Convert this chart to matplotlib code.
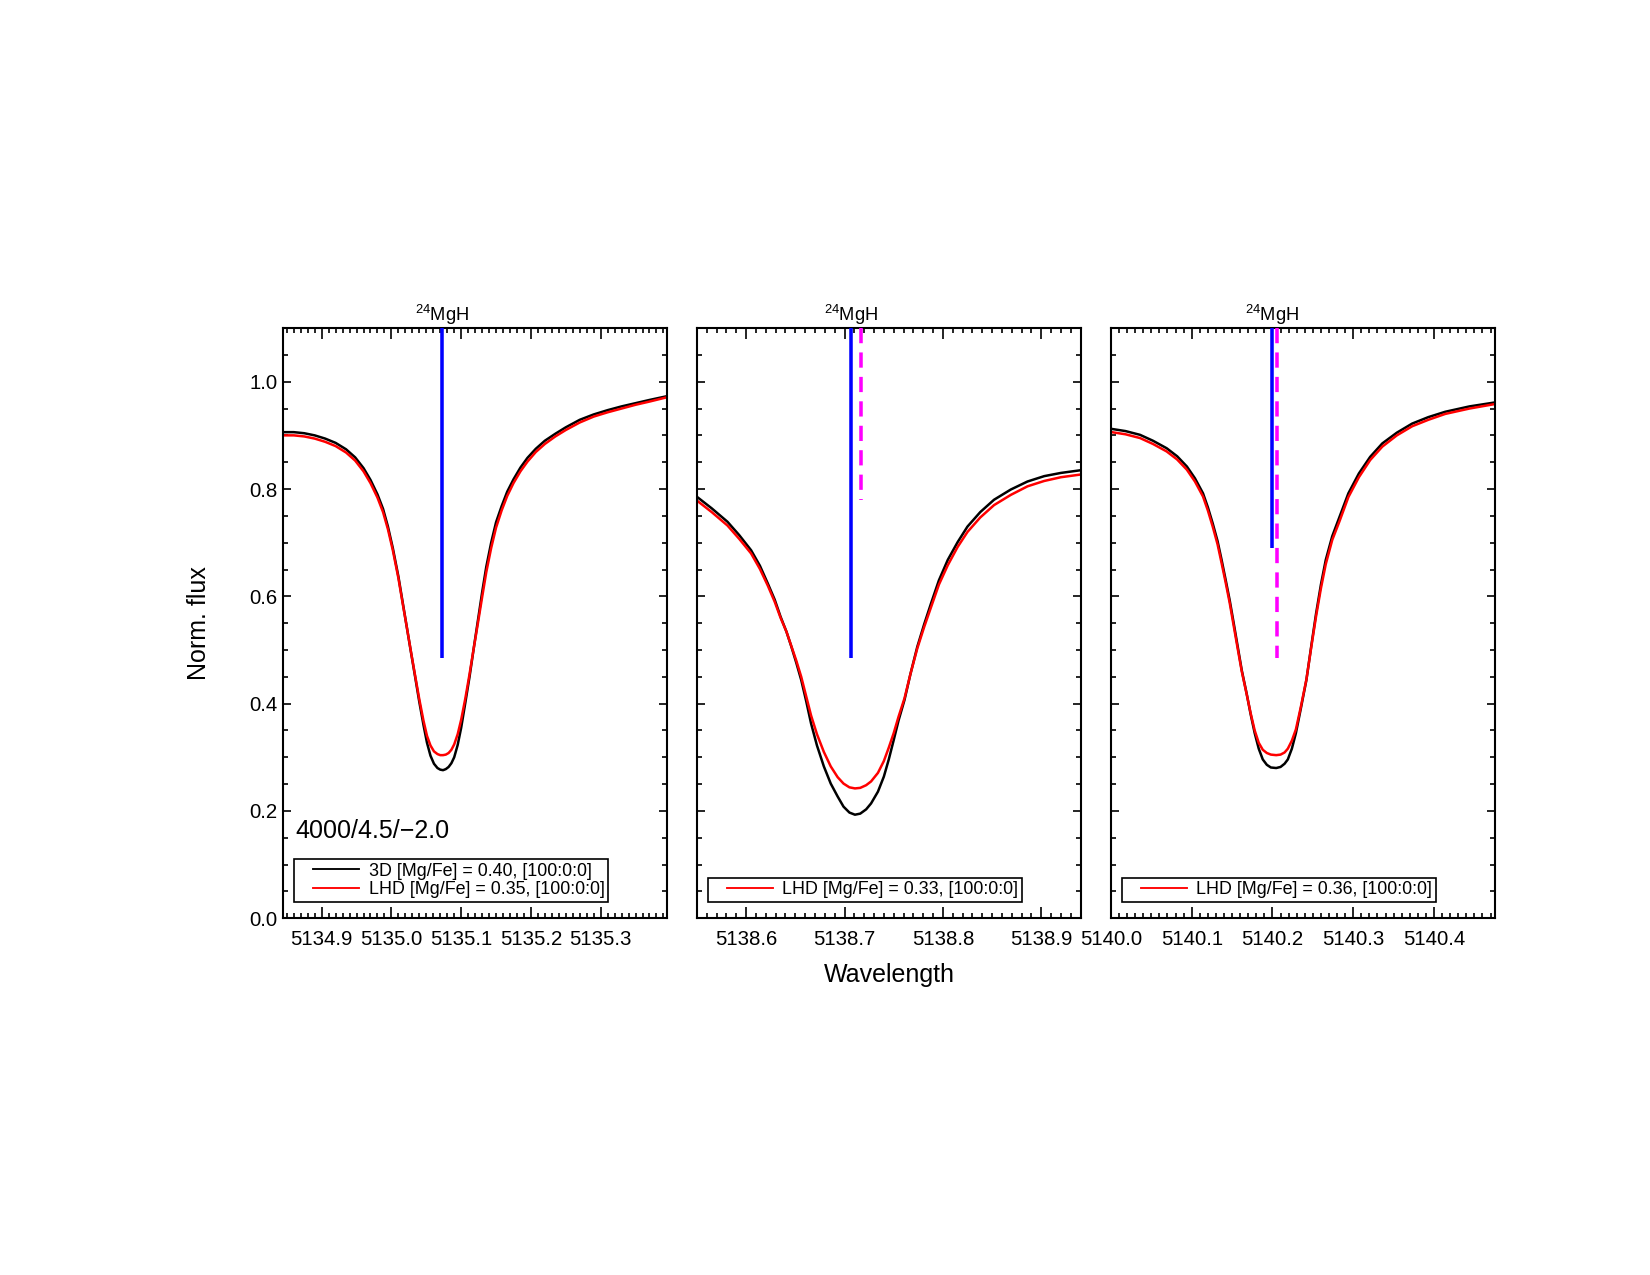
import matplotlib
matplotlib.use('Agg')
import numpy as np
import matplotlib.pyplot as plt
from matplotlib.ticker import MultipleLocator, FormatStrFormatter
from matplotlib.legend_handler import HandlerLine2D

plt.rcParams['font.family'] = ['Liberation Sans', 'DejaVu Sans']
plt.rcParams['mathtext.fontset'] = 'custom'
plt.rcParams['mathtext.rm'] = 'Liberation Sans'
plt.rcParams['mathtext.it'] = 'Liberation Sans:italic'

# ---- panel 1: 5135.07 ----
wl1 = [5134.845, 5134.860, 5134.875, 5134.890, 5134.905, 5134.920, 5134.935, 5134.948,
       5134.960, 5134.970, 5134.980, 5134.988, 5134.995, 5135.002, 5135.010, 5135.016,
       5135.022, 5135.028, 5135.034, 5135.040, 5135.046, 5135.051, 5135.056, 5135.061,
       5135.066, 5135.070, 5135.074, 5135.078, 5135.082, 5135.086, 5135.090, 5135.095,
       5135.100, 5135.106, 5135.112, 5135.118, 5135.124, 5135.130, 5135.136, 5135.143,
       5135.150, 5135.158, 5135.166, 5135.175, 5135.185, 5135.195, 5135.207, 5135.220,
       5135.235, 5135.250, 5135.270, 5135.290, 5135.310, 5135.330, 5135.350, 5135.370,
       5135.395]
flux3d_1 = [0.906, 0.906, 0.904, 0.900, 0.894, 0.886, 0.874, 0.859,
            0.839, 0.817, 0.790, 0.763, 0.730, 0.690, 0.637, 0.590,
            0.543, 0.496, 0.450, 0.403, 0.360, 0.327, 0.303, 0.288,
            0.280, 0.277, 0.276, 0.278, 0.282, 0.289, 0.300, 0.323,
            0.355, 0.402, 0.450, 0.503, 0.555, 0.607, 0.655, 0.700,
            0.738, 0.768, 0.795, 0.818, 0.840, 0.858, 0.875, 0.890,
            0.903, 0.915, 0.929, 0.939, 0.947, 0.954, 0.960, 0.966,
            0.973]
fluxlhd_1 = [0.900, 0.900, 0.898, 0.894, 0.888, 0.880, 0.868, 0.853,
             0.833, 0.811, 0.784, 0.757, 0.725, 0.686, 0.634, 0.588,
             0.543, 0.497, 0.452, 0.408, 0.368, 0.340, 0.322, 0.311,
             0.306, 0.304, 0.304, 0.305, 0.308, 0.314, 0.324, 0.343,
             0.370, 0.410, 0.455, 0.503, 0.550, 0.598, 0.645, 0.690,
             0.728, 0.760, 0.787, 0.811, 0.833, 0.851, 0.869, 0.884,
             0.898, 0.910, 0.924, 0.935, 0.943, 0.950, 0.957, 0.963,
             0.971]

# ---- panel 2: 5138.71 ----
wl2 = [5138.551, 5138.565, 5138.581, 5138.593, 5138.605, 5138.614, 5138.622, 5138.629,
       5138.635, 5138.641, 5138.646, 5138.651, 5138.656, 5138.661, 5138.666, 5138.672,
       5138.679, 5138.686, 5138.693, 5138.699, 5138.705, 5138.7106, 5138.716, 5138.722,
       5138.727, 5138.734, 5138.740, 5138.745, 5138.750, 5138.755, 5138.761, 5138.767,
       5138.774, 5138.781, 5138.788, 5138.796, 5138.805, 5138.815, 5138.825, 5138.838,
       5138.852, 5138.869, 5138.886, 5138.903, 5138.920, 5138.940]
flux3d_2 = [0.784, 0.764, 0.739, 0.714, 0.686, 0.657, 0.624, 0.594,
            0.562, 0.534, 0.506, 0.476, 0.444, 0.405, 0.363, 0.322,
            0.283, 0.251, 0.227, 0.208, 0.197, 0.193, 0.195, 0.203,
            0.214, 0.236, 0.264, 0.296, 0.332, 0.369, 0.407, 0.455,
            0.506, 0.548, 0.587, 0.630, 0.668, 0.701, 0.730, 0.757,
            0.780, 0.799, 0.814, 0.824, 0.830, 0.835]
fluxlhd_2 = [0.777, 0.757, 0.732, 0.707, 0.680, 0.651, 0.620, 0.590,
             0.560, 0.534, 0.507, 0.480, 0.450, 0.414, 0.378, 0.343,
             0.310, 0.283, 0.263, 0.251, 0.244, 0.242, 0.243, 0.248,
             0.255, 0.271, 0.293, 0.318, 0.345, 0.376, 0.410, 0.455,
             0.503, 0.543, 0.580, 0.622, 0.658, 0.692, 0.720, 0.747,
             0.770, 0.789, 0.805, 0.815, 0.822, 0.827]

# ---- panel 3: 5140.20 ----
wl3 = [5140.001, 5140.018, 5140.036, 5140.052, 5140.069, 5140.082, 5140.094, 5140.104,
       5140.114, 5140.120, 5140.126, 5140.132, 5140.137, 5140.142, 5140.147, 5140.152,
       5140.157, 5140.162, 5140.168, 5140.173, 5140.178, 5140.183, 5140.188, 5140.193,
       5140.198, 5140.2046, 5140.210, 5140.215, 5140.219, 5140.224, 5140.229, 5140.235,
       5140.242, 5140.248, 5140.254, 5140.260, 5140.266, 5140.274, 5140.283, 5140.294,
       5140.307, 5140.321, 5140.336, 5140.354, 5140.373, 5140.393, 5140.414, 5140.444,
       5140.474]
flux3d_3 = [0.912, 0.908, 0.901, 0.890, 0.876, 0.861, 0.842, 0.820,
            0.792, 0.766, 0.736, 0.703, 0.668, 0.631, 0.593, 0.550,
            0.506, 0.462, 0.419, 0.380, 0.345, 0.316, 0.296, 0.286,
            0.281, 0.280, 0.282, 0.288, 0.296, 0.316, 0.345, 0.390,
            0.444, 0.507, 0.568, 0.622, 0.668, 0.712, 0.748, 0.792,
            0.829, 0.860, 0.885, 0.905, 0.922, 0.934, 0.944, 0.954,
            0.961]
fluxlhd_3 = [0.906, 0.902, 0.895, 0.884, 0.870, 0.855, 0.836, 0.814,
             0.786, 0.760, 0.730, 0.697, 0.662, 0.626, 0.588, 0.545,
             0.502, 0.460, 0.418, 0.382, 0.350, 0.327, 0.314, 0.308,
             0.305, 0.304, 0.305, 0.309, 0.316, 0.331, 0.352, 0.393,
             0.445, 0.505, 0.563, 0.615, 0.660, 0.705, 0.740, 0.785,
             0.822, 0.854, 0.879, 0.900, 0.917, 0.929, 0.940, 0.950,
             0.958]

xlims = [(5134.845, 5135.395), (5138.550, 5138.940), (5140.000, 5140.475)]
mgh_pos = [5135.072, 5138.7065, 5140.1993]      # blue line positions
mgh_depth = [0.4845, 0.4845, 0.691]             # lower end of blue line
iso_pos = [None, 5138.7166, 5140.2058]          # magenta dashed
iso_depth = [None, 0.7795, 0.4845]
mgfe_3d = ['0.40', None, None]
mgfe_lhd = ['0.35', '0.33', '0.36']

wl = [wl1, wl2, wl3]
f3d = [flux3d_1, flux3d_2, flux3d_3]
flhd = [fluxlhd_1, fluxlhd_2, fluxlhd_3]


class IndentedLine(HandlerLine2D):
    # legend line that starts a bit right of the frame edge, as in the IDL legend
    def create_artists(self, *args, **kwargs):
        arts = super().create_artists(*args, **kwargs)
        x = np.asarray(arts[0].get_xdata(), dtype=float)
        x0, x1 = x[0], x[-1]
        arts[0].set_xdata(np.linspace(x0 + 0.25 * (x1 - x0), x1, len(x)))
        return arts


fig = plt.figure(figsize=(11, 8.5), dpi=150)
lefts = [0.1717, 0.4224, 0.6733]
axes = [fig.add_axes([l, 0.2798, 0.2325, 0.4629]) for l in lefts]

for i, ax in enumerate(axes):
    h3d, = ax.plot(wl[i], f3d[i], color='black', lw=1.2)
    hlhd, = ax.plot(wl[i], flhd[i], color='red', lw=1.2)
    ax.vlines(mgh_pos[i], mgh_depth[i], 1.1, color='blue', lw=1.7, zorder=3)
    if iso_pos[i] is not None:
        ax.plot([iso_pos[i], iso_pos[i]], [1.1, iso_depth[i]], color='magenta',
                lw=1.7, dashes=(4.3, 2.6), zorder=3)
    ax.text(mgh_pos[i], 1.1137, r'$^{24}$MgH', ha='center', va='baseline', fontsize=8.8)

    ax.set_xlim(*xlims[i])
    ax.set_ylim(0, 1.1)
    ax.xaxis.set_major_locator(MultipleLocator(0.1))
    ax.xaxis.set_minor_locator(MultipleLocator(0.01))
    ax.xaxis.set_major_formatter(FormatStrFormatter('%.1f'))
    ax.yaxis.set_major_locator(MultipleLocator(0.2))
    ax.yaxis.set_minor_locator(MultipleLocator(0.05))
    ax.yaxis.set_major_formatter(FormatStrFormatter('%.1f'))
    ax.tick_params(axis='both', which='both', direction='in', top=True, right=True,
                   width=0.8, labelsize=9.8)
    ax.tick_params(axis='x', which='major', length=5.2, pad=5.5)
    ax.tick_params(axis='x', which='minor', length=2.6)
    ax.tick_params(axis='y', which='major', length=3.7, pad=2.9)
    ax.tick_params(axis='y', which='minor', length=2.2)
    if i > 0:
        ax.tick_params(axis='y', labelleft=False)
    for s in ax.spines.values():
        s.set_linewidth(1.0)

    handles, labels = [], []
    if mgfe_3d[i] is not None:
        handles.append(h3d)
        labels.append(f'3D [Mg/Fe] = {mgfe_3d[i]}, [100:0:0]')
    handles.append(hlhd)
    labels.append(f'LHD [Mg/Fe] = {mgfe_lhd[i]}, [100:0:0]')
    leg = ax.legend(handles, labels, loc='lower left', bbox_to_anchor=(0.029, 0.028),
                    borderaxespad=0, fontsize=8.6, fancybox=False, framealpha=1,
                    edgecolor='black', handlelength=3.4, handletextpad=0.55,
                    borderpad=0.2, labelspacing=0.08,
                    handler_map={h3d: IndentedLine(), hlhd: IndentedLine()})
    leg.get_frame().set_linewidth(0.8)
    for ln in leg.get_lines():
        ln.set_linewidth(0.9)

axes[0].text(0.031, 0.149 / 1.1, '4000/4.5/\u22122.0', transform=axes[0].transAxes,
             ha='left', va='baseline', fontsize=12)

fig.text(199 / 1650, 1 - 623 / 1275, 'Norm. flux', rotation=90, ha='center', va='center',
         fontsize=12)
fig.text(889 / 1650, 1 - 975 / 1275, 'Wavelength', ha='center', va='center', fontsize=12)

fig.savefig('out.png', dpi=150)
